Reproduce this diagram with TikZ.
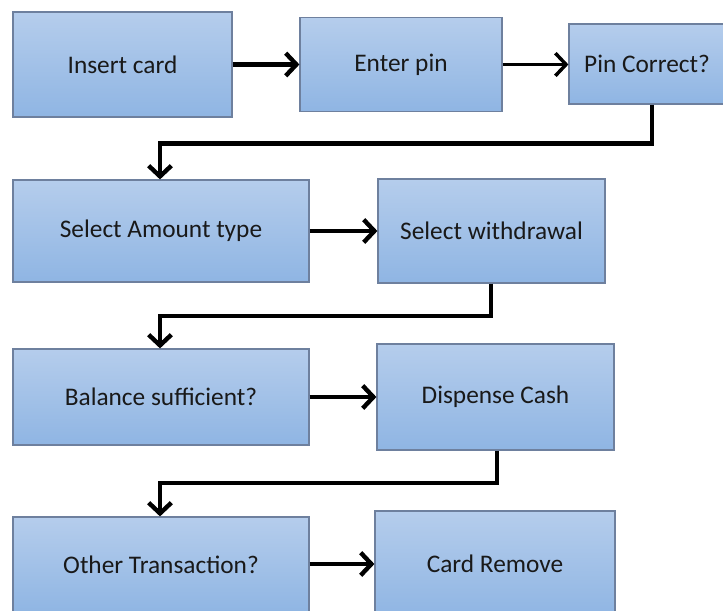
\documentclass[tikz,border=0pt]{standalone}
\usepackage{fontspec}
\setmainfont{Carlito}
\usetikzlibrary{arrows.meta,calc}
\definecolor{boxtop}{RGB}{181,205,236}
\definecolor{boxbot}{RGB}{143,181,227}
\definecolor{boxline}{RGB}{110,128,158}
\definecolor{txt}{RGB}{25,25,25}
\tikzset{
  box/.style={draw=boxline, line width=0.9pt, top color=boxtop, bottom color=boxbot,
    rectangle, inner sep=0pt, text=txt, font=\fontsize{19}{22}\selectfont},
  arr/.style={line width=3.3pt, -{Straight Barb[length=8pt,width=17pt]}},
  conn/.style={line width=3.3pt, -{Straight Barb[length=8pt,width=17pt]}}
}
\begin{document}
\begin{tikzpicture}[x=0.75pt,y=-0.75pt]
\useasboundingbox (0,0) rectangle (723,610);
\fill[white] (0,0) rectangle (723,610);
% boxes: center (px), size (px)
\node[box, minimum width=219*0.75pt, minimum height=105*0.75pt] (b1) at (122.5,64.5) {Insert card};
\node[box, minimum width=202*0.75pt, minimum height=94*0.75pt] (b2) at (401,64.5) {Enter pin};
\node[box, minimum width=156*0.75pt, minimum height=80*0.75pt] (b3) at (647,64) {Pin Correct?};
\node[box, minimum width=296*0.75pt, minimum height=102*0.75pt] (b4) at (161,231) {Select Amount type};
\node[box, minimum width=227*0.75pt, minimum height=104*0.75pt] (b5) at (491.5,231) {Select withdrawal};
\node[box, minimum width=296*0.75pt, minimum height=96*0.75pt] (b6) at (161,397) {Balance sufficient?};
\node[box, minimum width=237*0.75pt, minimum height=106*0.75pt] (b7) at (495.5,397) {Dispense Cash};
\node[box, minimum width=296*0.75pt, minimum height=96*0.75pt] (b8) at (161,565) {Other Transaction?};
\node[box, minimum width=240*0.75pt, minimum height=106*0.75pt] (b9) at (495,564) {Card Remove};
% turn points
\coordinate (t1) at (652,143.5);
\coordinate (c1) at (160,143.5);
\coordinate (t2) at (491,316);
\coordinate (c2) at (160,316);
\coordinate (t3) at (497,483);
\coordinate (c3) at (160,483);
% horizontal arrows
\draw[arr] (b1.east) -- (b1.east -| b2.west);
\draw[arr, line width=2.6pt] (b2.east) -- (b2.east -| b3.west);
\draw[arr] (b4.east) -- (b4.east -| b5.west);
\draw[arr] (b6.east) -- (b6.east -| b7.west);
\draw[arr] (b8.east |- b9.center) -- (b9.west);
% elbow connectors
\draw[conn, line join=miter] (b3.south -| t1) -- (t1) -- (c1) -- (c1 |- b4.north);
\draw[conn, line join=miter] (b5.south -| t2) -- (t2) -- (c2) -- (c2 |- b6.north);
\draw[conn, line join=miter] (b7.south -| t3) -- (t3) -- (c3) -- (c3 |- b8.north);
\end{tikzpicture}
\end{document}
